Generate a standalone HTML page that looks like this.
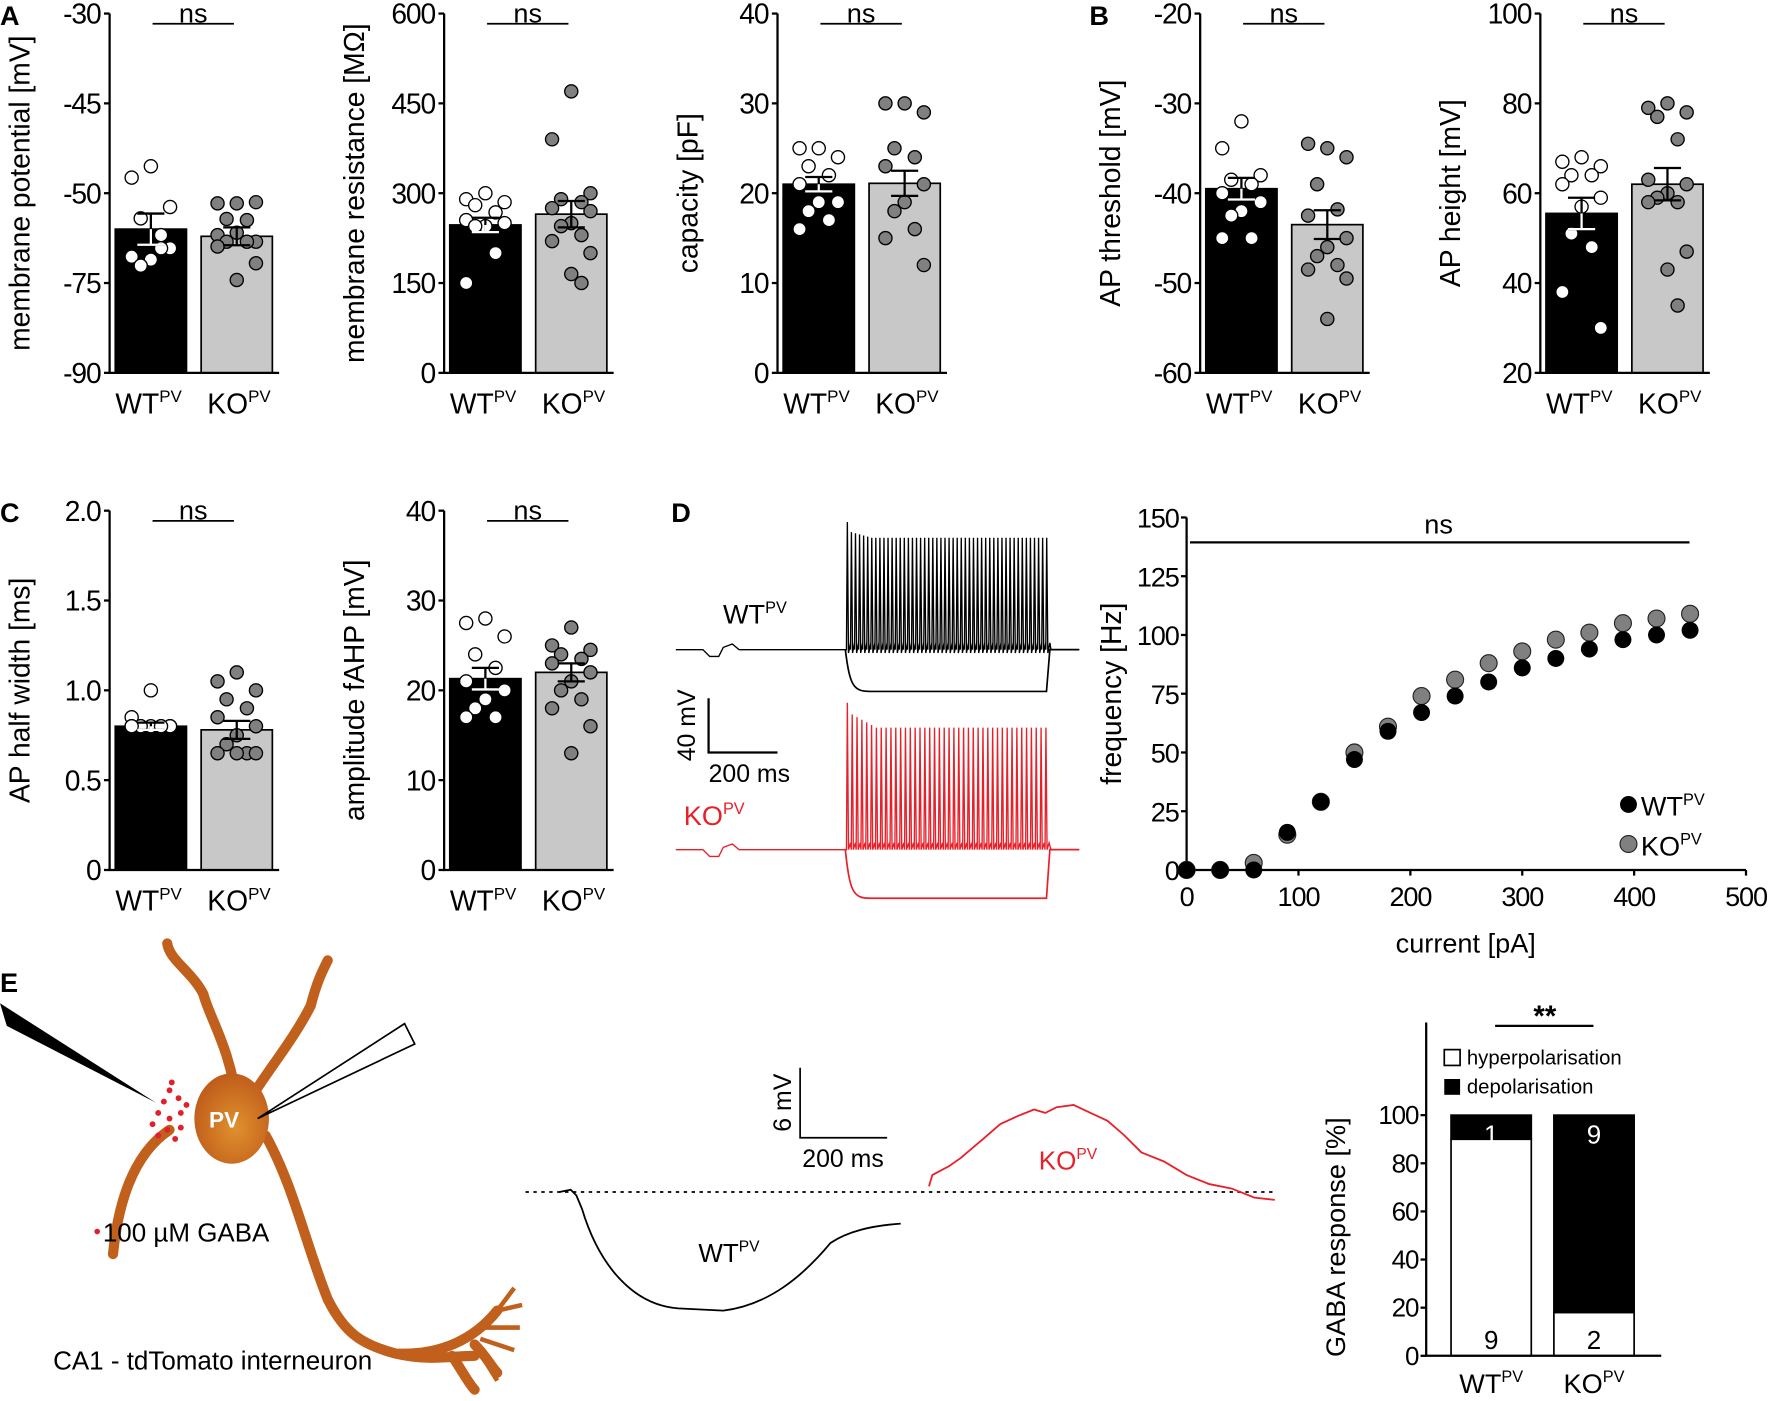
<!DOCTYPE html>
<html><head><meta charset="utf-8"><style>
html,body{margin:0;padding:0;background:#fff;}
svg{display:block;font-family:"Liberation Sans",sans-serif;}
</style></head><body>
<svg id="fig" width="1772" height="1401" viewBox="0 0 1568 1240" preserveAspectRatio="none" xmlns="http://www.w3.org/2000/svg">
<g font-weight="bold" font-size="24">
<text x="0" y="22">A</text>
<text x="964" y="22">B</text>
<text x="0" y="462">C</text>
<text x="594" y="462">D</text>
<text x="0" y="878">E</text>
</g>
<g id="bars"></g>
<g id="traces"></g>
<g id="fi"></g>
<g id="neuron">
<path d="M150,1000 C120,1020 105,1060 100,1110 M210,980 C205,930 185,900 180,880 C170,860 150,850 148,835 M220,975 C235,950 260,920 275,890 C280,870 285,860 290,850 M235,1005 C260,1050 270,1100 290,1150 C305,1180 320,1190 350,1198 C390,1200 420,1185 440,1160 M350,1198 C380,1205 400,1200 420,1200 M400,1200 C410,1215 415,1225 420,1230 M420,1190 C430,1200 435,1210 440,1215" stroke="#c0601c" stroke-width="9" fill="none" stroke-linecap="round"/>
<path d="M440,1160 L455,1140 M440,1160 L462,1155 M430,1175 L460,1175 M425,1185 L455,1195 M420,1190 L440,1222" stroke="#c0601c" stroke-width="4" fill="none"/>
<defs><radialGradient id="soma" cx="0.55" cy="0.6" r="0.6"><stop offset="0" stop-color="#e0902e"/><stop offset="1" stop-color="#bf5c1a"/></radialGradient></defs>
<ellipse cx="205" cy="990" rx="33" ry="40" fill="url(#soma)"/>
<text x="185" y="998" fill="#fff" font-size="20" font-weight="bold">PV</text>
<polygon points="0,888 6,908 138,976" fill="#000"/>
<polygon points="358,906 367,924 228,990" fill="#fff" stroke="#000" stroke-width="1.5"/>
<g fill="#e0202a" id="gabadots"></g>
<circle cx="86" cy="1090" r="2.5" fill="#e0202a"/>
<text x="91" y="1099" font-size="23">100 µM GABA</text>
<text x="47" y="1212" font-size="23">CA1 - tdTomato interneuron</text>
</g>
<g id="gaba"></g>
<g id="stack"></g>
</svg>
<script>
// ---------- Panel data ----------
const groups = ["WT", "KO"];
const vmMeans = [-66, -67.2]; const vmErr = [2.6, 1.5];
const vmWT = [-55.5,-57.4,-62.3,-64.2,-67,-70.6,-69.2,-71.1,-72.1,-69.2];
const vmKO = [-61.7,-61.7,-61.5,-64.3,-64.5,-67,-68.1,-66.6,-68.1,-68.1,-68.9,-71.7,-74.5];
const rmMeans = [247, 265]; const rmErr = [12, 22];
const rmWT = [300,290,285,280,268,255,250,245,245,200,150];
const rmKO = [470,390,300,290,285,275,270,250,245,230,220,200,165,150];
const cpMeans = [21, 21.1]; const cpErr = [0.8, 1.4];
const cpWT = [25,25,24,23,22,21,19,19,18,17,16];
const cpKO = [30,30,29,25,24,23,21,19,18,16,15,12];
const thMeans = [-39.5, -43.5]; const thErr = [1.2, 1.6];
const thWT = [-32,-35,-38,-38.5,-39,-40,-41,-42,-42.5,-45,-45];
const thKO = [-35,-34.5,-36,-39,-41.8,-42.5,-45,-46,-47,-48,-48.5,-49.5,-54];
const htMeans = [55.5, 62]; const htErr = [3.5, 3.6];
const htWT = [68,67,66,64,64,62,59,57,51,48,38,30];
const htKO = [80,79,78,77,72,63,62,60,59,58,58,47,43,35];
const hwMeans = [0.8, 0.78]; const hwErr = [0.02, 0.05];
const hwWT = [1.0,0.85,0.8,0.8,0.8,0.8,0.8,0.8,0.8,0.8,0.8];
const hwKO = [1.1,1.05,1.0,0.95,0.9,0.85,0.8,0.75,0.7,0.65,0.65,0.65,0.65];
const ahMeans = [21.3, 22]; const ahErr = [1.2, 1.0];
const ahWT = [28,27.5,26,24,22.5,21,20,19,18,17,17];
const ahKO = [27,25,24.5,24,23.5,23,22,21,20,19,18,16,13];
// F-I data
const fiCurrent = [0,30,60,90,120,150,180,210,240,270,300,330,360,390,420,450];
const fiWT = [0,0,0,16,29,47,59,67,74,80,86,90,94,98,100,102];
const fiKO = [0,0,3,15,29,50,61,74,81,88,93,98,101,105,107,109];
const fiXTicks = [0,100,200,300,400,500];
const fiYTicks = [0,25,50,75,100,125,150];
// GABA response
const gabaHyper = [90, 18];
const gabaDepol = [10, 82];
const gabaHyperN = ["9","2"];
const gabaDepolN = ["1","9"];
const gabaTicks = [0,20,40,60,80,100];

const NS = "http://www.w3.org/2000/svg";
function mk(tag, attrs, parent, txt){
  const e = document.createElementNS(NS, tag);
  for (const k in attrs) e.setAttribute(k, attrs[k]);
  if (txt !== undefined) e.textContent = txt;
  parent.appendChild(e); return e;
}
function label(parent, x, y, base, color, size, anchor){
  const t = mk("text", {x:x, y:y, "font-size":size, fill:color, "text-anchor":anchor||"middle"}, parent);
  mk("tspan", {}, t, base);
  mk("tspan", {dy:-size*0.4, "font-size":size*0.6}, t, "PV");
  return t;
}

function barPanel(name, ax, top, bot, min, max, ticks, tickLabels, title, means, errs, wt, ko){
  const root = document.getElementById("bars");
  const g = mk("g", {}, root);
  
  
  const y = v => bot - (v - min) / (max - min) * (bot - top);
  const bx = [ax + 5, ax + 81]; const bw = 63;
  const fills = ["#000", "#c8c8c8"];
  for (let i = 0; i < 2; i++) {
    const r = mk("rect", {x:bx[i], y:y(means[i]), width:bw, height:bot - y(means[i]), fill:fills[i], stroke:"#000", "stroke-width":1.5}, g);
    
    
  }
  const jit = [0,-17,17,-9,9,-17,17,0,-9,9,-17,17,0,9];
  [wt, ko].forEach((arr, i) => {
    arr.forEach((v, j) => {
      const c = mk("circle", {cx:bx[i] + bw/2 + jit[j % jit.length], cy:y(v), r:5.8, fill:i ? "#808080" : "#fff", stroke:"#000", "stroke-width":1.2}, g);
      
      
    });
  });
  for (let i = 0; i < 2; i++) {
    const cx = bx[i] + bw/2;
    const eb = mk("path", {d:`M${cx},${y(means[i]-errs[i])}V${y(means[i]+errs[i])}M${cx-12},${y(means[i]+errs[i])}h24M${cx-12},${y(means[i]-errs[i])}h24`, stroke:"#000", "stroke-width":2, fill:"none"}, g);
    
    
    if (i === 0) { mk("path", {d:`M${cx},${y(means[i])}V${y(means[i]-errs[i])}M${cx-12},${y(means[i]-errs[i])}h24`, stroke:"#fff", "stroke-width":2}, g); }
  }
  const axis = mk("path", {d:`M${ax},${top}V${bot}H${ax+150}`, stroke:"#000", "stroke-width":2, fill:"none"}, g);
  
  
  ticks.forEach((t, k) => {
    mk("line", {x1:ax-5, x2:ax, y1:y(t), y2:y(t), stroke:"#000", "stroke-width":2}, g);
    const tl = mk("text", {x:ax-8, y:y(t)+9, "font-size":25, "text-anchor":"end", "letter-spacing":-1}, g, tickLabels[k]);
    
    
  });
  const yt = mk("text", {transform:`translate(${ax-71},${(top+bot)/2}) rotate(-90)`, "font-size":25, "text-anchor":"middle"}, g, title);
  
  
  const sig = mk("line", {x1:ax+38, x2:ax+110, y1:top+9, y2:top+9, stroke:"#000", "stroke-width":1.5}, g);
  
  
  const ns = mk("text", {x:ax+74, y:top+8, "font-size":24, "text-anchor":"middle"}, g, "ns");
  
  
  const l1 = label(g, bx[0] + bw/2 - 2, bot + 36, "WT", "#000", 25);
  
  
  const l2 = label(g, bx[1] + bw/2 + 2, bot + 36, "KO", "#000", 25);
  
  
}

barPanel("membrane-potential", 97, 12, 330, -90, -30, [-30,-45,-60,-75,-90], ["-30","-45","-50","-75","-90"], "membrane potential [mV]", vmMeans, vmErr, vmWT, vmKO);
barPanel("membrane-resistance", 393, 12, 330, 0, 600, [600,450,300,150,0], ["600","450","300","150","0"], "membrane resistance [MΩ]", rmMeans, rmErr, rmWT, rmKO);
barPanel("capacity", 688, 12, 330, 0, 40, [40,30,20,10,0], ["40","30","20","10","0"], "capacity [pF]", cpMeans, cpErr, cpWT, cpKO);
barPanel("ap-threshold", 1062, 12, 330, -60, -20, [-20,-30,-40,-50,-60], ["-20","-30","-40","-50","-60"], "AP threshold [mV]", thMeans, thErr, thWT, thKO);
barPanel("ap-height", 1363, 12, 330, 20, 100, [100,80,60,40,20], ["100","80","60","40","20"], "AP height [mV]", htMeans, htErr, htWT, htKO);
barPanel("ap-half-width", 97, 452, 770, 0, 2, [2,1.5,1,0.5,0], ["2.0","1.5","1.0","0.5","0"], "AP half width [ms]", hwMeans, hwErr, hwWT, hwKO);
barPanel("fahp-amplitude", 393, 452, 770, 0, 40, [40,30,20,10,0], ["40","30","20","10","0"], "amplitude fAHP [mV]", ahMeans, ahErr, ahWT, ahKO);

// ---------- Firing traces ----------
(function(){
  const g = document.getElementById("traces");
  function trace(base, hyp, spikeTop, spikeBot, n, color, decay){
    let d = `M598,${base}H622l6,6l8,0l4,-8l8,-3l6,5H748`;
    for (let k = 0; k < n; k++) {
      const x = 749 + k * (180 / n);
      const top = spikeTop + (k === 0 ? -8 : decay * Math.min(k, 6) / 6);
      d += `L${x},${base}L${x+0.8},${top}L${x+1.8},${spikeBot}L${x+3.6},${base-6}`;
    }
    d += `L930,${base}L955,${base}`;
    const p = mk("path", {d:d, stroke:color, "stroke-width":1.2, fill:"none"}, g);
    
    
    const h = mk("path", {d:`M748,${base}C752,${hyp-5} 755,${hyp} 770,${hyp}L926,${hyp}L929,${base}L955,${base}`, stroke:color, "stroke-width":1.5, fill:"none"}, g);
    
    
  }
  trace(575, 612, 470, 578, 50, "#000", 6);
  trace(752, 795, 630, 752, 42, "#e8202a", 14);
  const l1 = label(g, 668, 552, "WT", "#000", 24);
  
  
  const l2 = label(g, 632, 730, "KO", "#e8202a", 24);
  
  
  const sb = mk("path", {d:"M627,618V666H688", stroke:"#000", "stroke-width":2, fill:"none"}, g);
  
  
  mk("text", {transform:"translate(615,642) rotate(-90)", "font-size":22, "text-anchor":"middle"}, g, "40 mV");
  mk("text", {x:627, y:692, "font-size":22}, g, "200 ms");
})();

// ---------- F-I chart ----------
(function(){
  const g = document.getElementById("fi");
  const x0 = 1050, x1 = 1545, yT = 458, yB = 770;
  const X = v => x0 + v / 500 * (x1 - x0);
  const Y = v => yB - v / 150 * (yB - yT);
  const ax = mk("path", {d:`M${x0},${yT}V${yB}H${x1}`, stroke:"#000", "stroke-width":2, fill:"none"}, g);
  
  
  fiYTicks.forEach(t => {
    mk("line", {x1:x0-5, x2:x0, y1:Y(t), y2:Y(t), stroke:"#000", "stroke-width":2}, g);
    const tl = mk("text", {x:x0-7, y:Y(t)+9, "font-size":24, "text-anchor":"end", "letter-spacing":-1}, g, String(t));
    
    
  });
  fiXTicks.forEach(t => {
    mk("line", {x1:X(t), x2:X(t), y1:yB, y2:yB+5, stroke:"#000", "stroke-width":2}, g);
    const tl = mk("text", {x:X(t), y:yB+32, "font-size":24, "text-anchor":"middle", "letter-spacing":-1}, g, String(t));
    
    
  });
  const xt = mk("text", {x:1297, y:843, "font-size":24, "text-anchor":"middle"}, g, "current [pA]");
  
  
  const yt = mk("text", {transform:`translate(992,${(yT+yB)/2}) rotate(-90)`, "font-size":25, "text-anchor":"middle"}, g, "frequency [Hz]");
  
  
  const sig = mk("line", {x1:1053, x2:1495, y1:480, y2:480, stroke:"#000", "stroke-width":2}, g);
  
  
  mk("text", {x:1273, y:472, "font-size":24, "text-anchor":"middle"}, g, "ns");
  fiCurrent.forEach((c, i) => {
    const k = mk("circle", {cx:X(c), cy:Y(fiKO[i]), r:7.5, fill:"#808080", stroke:"#222", "stroke-width":1}, g);
    
    
    const w = mk("circle", {cx:X(c), cy:Y(fiWT[i]), r:7.5, fill:"#000"}, g);
    
    
  });
  const lw = mk("circle", {cx:1441, cy:712, r:7.5, fill:"#000"}, g);
  
  
  const lk = mk("circle", {cx:1441, cy:747, r:7.5, fill:"#808080", stroke:"#222"}, g);
  
  
  const a = label(g, 1452, 722, "WT", "#000", 24, "start");
  
  
  const b = label(g, 1452, 757, "KO", "#000", 24, "start");
  
  
})();

// ---------- neuron GABA dots ----------
(function(){
  const g = document.getElementById("gabadots");
  [[150,965],[158,972],[145,975],[160,985],[150,990],[140,985],[135,995],[148,1000],[160,998],[155,1008],[140,1005],[165,978],[152,958]].forEach(p => mk("circle", {cx:p[0], cy:p[1], r:2.6}, g));
})();

// ---------- GABA traces ----------
(function(){
  const g = document.getElementById("gaba");
  const dl = mk("line", {x1:465, x2:1130, y1:1055, y2:1055, stroke:"#000", "stroke-width":1.5, "stroke-dasharray":"3,4"}, g);
  
  
  const w = mk("path", {d:"M495,1055L505,1053L510,1058L515,1070C530,1120 560,1155 600,1158L640,1160C680,1155 710,1130 735,1100C750,1090 770,1085 797,1083", stroke:"#000", "stroke-width":1.6, fill:"none"}, g);
  
  
  const r = mk("path", {d:"M822,1050L825,1040L840,1032L850,1025L870,1008L885,995L900,988L915,982L925,985L935,980L950,978L965,985L980,992L995,1005L1010,1020L1030,1028L1050,1040L1070,1048L1090,1052L1110,1060L1128,1062", stroke:"#e8202a", "stroke-width":1.6, fill:"none"}, g);
  
  
  const sb = mk("path", {d:"M708,945V1007H785", stroke:"#000", "stroke-width":1.5, fill:"none"}, g);
  
  
  mk("text", {transform:"translate(700,976) rotate(-90)", "font-size":22, "text-anchor":"middle"}, g, "6 mV");
  mk("text", {x:746, y:1033, "font-size":22, "text-anchor":"middle"}, g, "200 ms");
  const a = label(g, 645, 1117, "WT", "#000", 23);
  
  
  const b = label(g, 945, 1035, "KO", "#e8202a", 23);
  
  
})();

// ---------- GABA response stacked bars ----------
(function(){
  const g = document.getElementById("stack");
  const ax = 1262, yB = 1200, y100 = 987;
  const Y = v => yB - v / 100 * (yB - y100);
  const bx = [1284, 1375], bw = 71;
  for (let i = 0; i < 2; i++) {
    const h = mk("rect", {x:bx[i], y:Y(gabaHyper[i]), width:bw, height:yB - Y(gabaHyper[i]), fill:"#fff", stroke:"#000", "stroke-width":1.5}, g);
    
    
    const d = mk("rect", {x:bx[i], y:Y(gabaHyper[i] + gabaDepol[i]), width:bw, height:Y(gabaHyper[i]) - Y(gabaHyper[i] + gabaDepol[i]), fill:"#000", stroke:"#000", "stroke-width":1.5}, g);
    
    
    mk("text", {x:bx[i] + bw/2, y:y100 + 25, "font-size":23, fill:"#fff", "text-anchor":"middle"}, g, gabaDepolN[i]);
    mk("text", {x:bx[i] + bw/2, y:yB - 6, "font-size":23, fill:"#000", "text-anchor":"middle"}, g, gabaHyperN[i]);
  }
  const a = mk("path", {d:`M${ax},905V${yB}H1470`, stroke:"#000", "stroke-width":2, fill:"none"}, g);
  
  
  gabaTicks.forEach(t => {
    mk("line", {x1:ax-5, x2:ax, y1:Y(t), y2:Y(t), stroke:"#000", "stroke-width":2}, g);
    const tl = mk("text", {x:ax-7, y:Y(t)+8, "font-size":23, "text-anchor":"end", "letter-spacing":-1}, g, String(t));
    
    
  });
  const yt = mk("text", {transform:"translate(1190,1095) rotate(-90)", "font-size":24, "text-anchor":"middle"}, g, "GABA response [%]");
  
  
  const sig = mk("line", {x1:1323, x2:1410, y1:908, y2:908, stroke:"#000", "stroke-width":2}, g);
  
  
  mk("text", {x:1367, y:908, "font-size":26, "font-weight":"bold", "text-anchor":"middle"}, g, "**");
  const l1 = mk("rect", {x:1278, y:929, width:14, height:14, fill:"#fff", stroke:"#000", "stroke-width":1.5}, g);
  
  
  mk("text", {x:1298, y:942, "font-size":18}, g, "hyperpolarisation");
  const l2 = mk("rect", {x:1278, y:955, width:14, height:14, fill:"#000"}, g);
  
  
  mk("text", {x:1298, y:968, "font-size":18}, g, "depolarisation");
  const x1 = label(g, bx[0] + bw/2, 1233, "WT", "#000", 24);
  
  
  const x2 = label(g, bx[1] + bw/2, 1233, "KO", "#000", 24);
  
  
})();
</script>
</body></html>
